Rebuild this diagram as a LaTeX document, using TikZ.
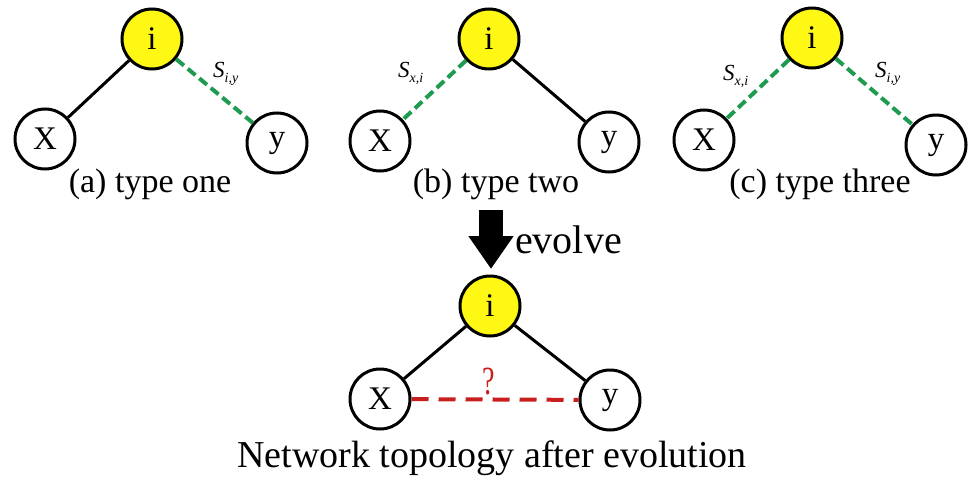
\documentclass[tikz,border=0pt]{standalone}
\usepackage{fontspec}
\setmainfont{Liberation Serif}
\usetikzlibrary{arrows.meta}
\definecolor{nodeyellow}{RGB}{255,248,20}
\definecolor{edgegreen}{RGB}{30,155,80}
\definecolor{edgered}{RGB}{200,30,30}
\tikzset{
  vert/.style={circle,draw=black,line width=3pt,minimum size=60pt,inner sep=0pt,font=\fontsize{33}{33}\selectfont},
  hub/.style={vert,fill=nodeyellow},
  leaf/.style={vert,fill=white},
  tie/.style={line width=3pt,draw=black},
  weak/.style={line width=4pt,draw=edgegreen,dash pattern=on 10pt off 5pt},
  unknown/.style={line width=4pt,draw=edgered,dash pattern=on 17pt off 10pt},
  captiontext/.style={anchor=base,inner sep=0pt,font=\fontsize{34}{34}\selectfont},
  slabel/.style={anchor=base west,inner sep=0pt,font=\fontsize{23}{23}\selectfont\itshape}
}
\newcommand{\Ssub}[1]{S\raisebox{-5pt}{\fontsize{14}{14}\selectfont\itshape #1}}
\begin{document}
\begin{tikzpicture}[x=1pt,y=-1pt]
\useasboundingbox (0,0) rectangle (969,479);
% (a)
\node[hub]  (ia) at (152,39) {i};
\node[leaf] (xa) at (45,139) {X};
\node[leaf] (ya) at (277,143) {y};
\draw[tie]  (ia) -- (xa);
\draw[weak] (ia) -- (ya);
\node[slabel] (la) at (213,77) {\Ssub{i,y}};
\node[captiontext] (capa) at (150,192) {(a) type one};
% (b)
\node[hub]  (ib) at (489,39) {i};
\node[leaf] (xb) at (380,141) {X};
\node[leaf] (yb) at (609,142) {y};
\draw[weak] (ib) -- (xb);
\draw[tie]  (ib) -- (yb);
\node[slabel] (lb) at (398,77) {\Ssub{x,i}};
\node[captiontext] (capb) at (496,192) {(b) type two};
% (c)
\node[hub]  (ic) at (812,38) {i};
\node[leaf] (xc) at (704,140) {X};
\node[leaf] (yc) at (936,145) {y};
\draw[weak] (ic) -- (xc);
\draw[weak] (ic) -- (yc);
\node[slabel] (lc1) at (723,80) {\Ssub{x,i}};
\node[slabel] (lc2) at (875,77) {\Ssub{i,y}};
\node[captiontext] (capc) at (820,192) {(c) type three};
% evolve arrow
\coordinate (arrtop) at (491,210);
\coordinate (arrtip) at (491,269);
\draw[line width=24pt,-{Triangle[width=43pt,length=33pt]}] (arrtop) -- (arrtip);
\node[anchor=base west,inner sep=0pt,font=\fontsize{40}{40}\selectfont] (evo) at (515,253) {evolve};
% result
\node[hub]  (id) at (490,306) {i};
\node[leaf] (xd) at (380,399) {X};
\node[leaf] (yd) at (610,400) {y};
\draw[tie] (id) -- (xd);
\draw[tie] (id) -- (yd);
\draw[unknown] (xd) -- (yd);
\node[anchor=base,inner sep=0pt,text=edgered,font=\fontsize{40}{40}\selectfont,xscale=0.7] (q) at (489,394) {?};
\node[anchor=base,inner sep=0pt,font=\fontsize{38}{38}\selectfont] (capd) at (492,467) {Network topology after evolution};
\end{tikzpicture}
\end{document}
